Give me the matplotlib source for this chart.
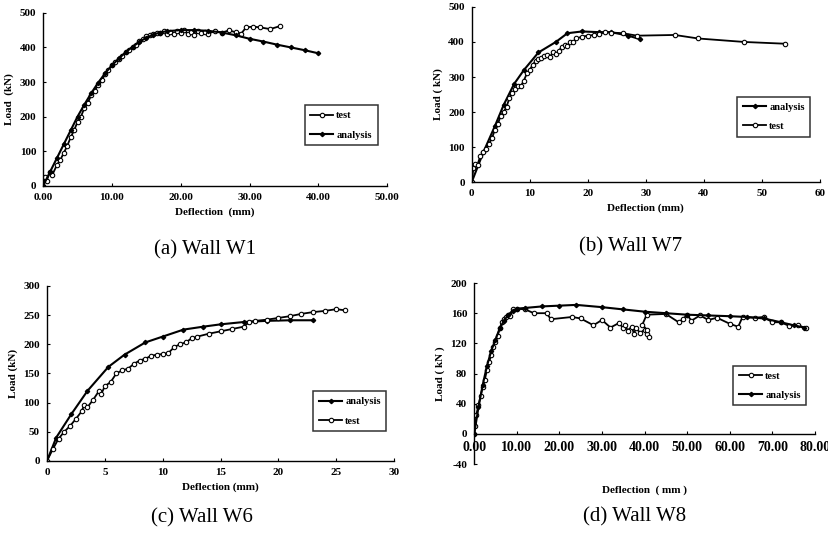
import matplotlib
matplotlib.use("Agg")
import matplotlib.pyplot as plt

plt.rcParams['font.family'] = ['Liberation Serif', 'DejaVu Serif']
plt.rcParams['font.weight'] = 'bold'

# ---- Wall W1 ----
w1_test_x = [0, 0.3, 0.5, 1, 1.3, 2, 2.5, 3, 3.5, 4, 4.5, 5, 5.5, 6, 6.5, 7, 7.5, 8, 8.5, 9,
             9.5, 10, 10.5, 11, 11.5, 12, 12.5, 13, 13.5, 14, 14.5, 15, 15.5, 16, 16.5, 17,
             17.5, 18, 18.5, 19, 19.5, 20, 20.5, 21, 21.5, 22, 22.5, 23, 23.5, 24, 25, 26,
             27, 28, 28.8, 29.5, 30.5, 31.5, 33, 34.5]
w1_test_y = [0, 25, 15, 40, 30, 60, 75, 95, 115, 140, 160, 185, 200, 225, 240, 262, 275, 292,
             305, 322, 335, 350, 357, 366, 376, 386, 393, 400, 408, 418, 425, 432, 437, 440,
             443, 441, 447, 440, 446, 438, 448, 442, 450, 438, 445, 435, 448, 442, 445, 440,
             447, 443, 449, 444, 440, 458, 460, 458, 453, 462]
w1_ana_x = [0, 1, 2, 3, 4, 5, 6, 7, 8, 9, 10, 11, 12, 13, 14, 15, 16, 17, 18, 20, 22, 24, 26,
            28, 30, 32, 34, 36, 38, 40]
w1_ana_y = [0, 40, 80, 120, 160, 200, 235, 268, 298, 325, 348, 368, 386, 402, 416, 428, 437,
            443, 447, 450, 450, 448, 443, 435, 425, 417, 408, 400, 392, 383]

# ---- Wall W7 ----
w7_ana_x = [0, 2, 4, 5.5, 7.3, 9, 11.5, 14.5, 16.5, 19, 22, 24, 27, 29]
w7_ana_y = [0, 85, 160, 220, 280, 320, 370, 400, 425, 430, 428, 428, 418, 408]
w7_test_x = [0, 0.3, 0.6, 1, 1.5, 2, 2.5, 3, 3.5, 4, 4.5, 5, 5.5, 6, 6.5, 7, 7.5, 8, 8.5, 9,
             9.5, 10, 10.5, 11, 11.5, 12, 12.5, 13, 13.5, 14, 14.5, 15, 15.5, 16, 16.5, 17,
             17.5, 18, 19, 20, 21, 22, 23, 24, 26, 28.5, 35, 39, 47, 54]
w7_test_y = [0, 40, 52, 50, 75, 85, 95, 110, 125, 150, 165, 190, 200, 215, 240, 255, 265,
             275, 275, 290, 310, 320, 335, 345, 350, 355, 360, 362, 358, 370, 365, 375, 385,
             390, 388, 400, 400, 410, 415, 418, 420, 423, 428, 427, 425, 418, 420, 410, 400,
             395]

# ---- Wall W6 ----
w6_ana_x = [0, 0.8, 2.1, 3.5, 5.3, 6.7, 8.5, 10, 11.8, 13.5, 15, 17, 19, 21, 23]
w6_ana_y = [0, 40, 80, 120, 161, 182, 203, 213, 225, 230, 234, 238, 240, 241, 241]
w6_test_x = [0, 0.5, 1, 1.5, 2, 2.5, 3, 3.2, 3.5, 4, 4.5, 4.7, 5, 5.5, 6, 6.5, 7, 7.5, 8, 8.5,
             9, 9.5, 10, 10.5, 11, 11.5, 12, 12.5, 13, 14, 15, 16, 17, 17.5, 18, 19, 20, 21,
             22, 23, 24, 25, 25.8]
w6_test_y = [0, 20, 38, 50, 60, 72, 85, 95, 92, 105, 120, 115, 128, 135, 150, 155, 158, 166,
             172, 175, 180, 182, 183, 185, 195, 200, 203, 210, 213, 218, 222, 226, 230, 238,
             240, 242, 245, 248, 252, 255, 257, 260, 258]

# ---- Wall W8 ----
w8_test_x = [0, 0.3, 0.5, 1, 1.5, 2, 2.5, 3, 3.5, 4, 4.5, 5, 5.5, 6, 6.5, 7, 7.5, 8, 8.5, 9,
             10, 12, 14, 17, 18, 23, 25, 28, 30, 32, 34, 35, 35.5, 36, 37, 37.5, 38, 39, 40,
             40.5, 41, 40.5, 39.5, 40.5, 45, 48, 49, 50, 51, 53, 55, 57, 60, 62, 63, 66, 68,
             70, 72, 74, 76, 78]
w8_test_y = [0, 10, 25, 38, 50, 62, 72, 85, 95, 105, 115, 122, 130, 140, 148, 152, 155, 158,
             156, 165, 166, 165, 160, 160, 152, 155, 153, 144, 151, 141, 147, 140, 145, 137,
             142, 133, 140, 134, 138, 133, 128, 138, 145, 158, 159, 148, 152, 158, 150, 157,
             151, 154, 146, 142, 155, 154, 155, 148, 148, 143, 144, 140]
w8_ana_x = [0, 1, 2, 3, 4, 5, 6, 7, 8, 9, 10, 12, 16, 20, 24, 30, 35, 40, 45, 50, 55, 60,
            64, 68, 72, 75, 77.5]
w8_ana_y = [0, 35, 65, 90, 110, 125, 140, 150, 158, 163, 166, 167, 169, 170, 171, 168, 165,
            162, 160, 158, 157, 156, 155, 153, 148, 144, 141]

fig = plt.figure(figsize=(8.29, 5.34), dpi=100)

test_kw = dict(color='black', lw=1.3, marker='o', ms=3.2, mfc='white', mec='black', mew=0.8)
ana_kw = dict(color='black', lw=1.5, marker='D', ms=2.2, mfc='black', mec='black')


def style(ax, xlim, ylim, xticks, yticks, xfmt, ylabel, xlabel):
    ax.set_xlim(xlim)
    ax.set_ylim(ylim)
    ax.set_xticks(xticks)
    ax.set_yticks(yticks)
    ax.set_xticklabels([xfmt.format(v) for v in xticks], fontsize=8, fontweight='bold')
    ax.set_yticklabels([str(v) for v in yticks], fontsize=8, fontweight='bold')
    ax.spines['top'].set_visible(False)
    ax.spines['right'].set_visible(False)
    ax.spines['left'].set_linewidth(1.0)
    ax.spines['bottom'].set_linewidth(1.0)
    ax.tick_params(direction='in', length=2.5, width=0.8, pad=5)
    ax.set_ylabel(ylabel, fontsize=8, fontweight='bold')
    ax.set_xlabel(xlabel, fontsize=8, fontweight='bold')


def legend(ax, order, center):
    leg = ax.legend(handles=order, loc='center', bbox_to_anchor=center, fontsize=7.5,
                    frameon=True, fancybox=False, handlelength=2.2, borderpad=0.55,
                    labelspacing=0.95, handletextpad=0.3, borderaxespad=0)
    leg.get_frame().set_edgecolor('black')
    leg.get_frame().set_linewidth(1.1)
    for t in leg.get_texts():
        t.set_fontweight('bold')


# (a) Wall W1
ax = fig.add_axes([0.052, 0.652, 0.415, 0.324])
lt, = ax.plot(w1_test_x, w1_test_y, label='test', **test_kw)
la, = ax.plot(w1_ana_x, w1_ana_y, label='analysis', **ana_kw)
style(ax, (0, 50), (0, 500), [0, 10, 20, 30, 40, 50], [0, 100, 200, 300, 400, 500],
      '{:.2f}', 'Load  (kN)', 'Deflection  (mm)')
legend(ax, [lt, la], (0.866, 0.35))

# (b) Wall W7
ax = fig.add_axes([0.569, 0.659, 0.420, 0.328])
la, = ax.plot(w7_ana_x, w7_ana_y, label='analysis', **ana_kw)
lt, = ax.plot(w7_test_x, w7_test_y, label='test', **test_kw)
style(ax, (0, 60), (0, 500), [0, 10, 20, 30, 40, 50, 60], [0, 100, 200, 300, 400, 500],
      '{:d}', 'Load ( kN)', 'Deflection (mm)')
legend(ax, [la, lt], (0.868, 0.374))

# (c) Wall W6
ax = fig.add_axes([0.0567, 0.137, 0.4186, 0.3277])
la, = ax.plot(w6_ana_x, w6_ana_y, label='analysis', **ana_kw)
lt, = ax.plot(w6_test_x, w6_test_y, label='test', **test_kw)
style(ax, (0, 30), (0, 300), [0, 5, 10, 15, 20, 25, 30], [0, 50, 100, 150, 200, 250, 300],
      '{:d}', 'Load (kN)', 'Deflection (mm)')
legend(ax, [la, lt], (0.873, 0.283))

# (d) Wall W8
ax = fig.add_axes([0.572, 0.131, 0.411, 0.339])
lt, = ax.plot(w8_test_x, w8_test_y, label='test', **test_kw)
la, = ax.plot(w8_ana_x, w8_ana_y, label='analysis', **ana_kw)
style(ax, (0, 80), (-40, 200), [0, 10, 20, 30, 40, 50, 60, 70, 80],
      [-40, 0, 40, 80, 120, 160, 200], '{:.2f}', 'Load ( kN )', 'Deflection  ( mm )')
ax.spines['bottom'].set_position(('data', 0))
ax.xaxis.set_label_coords(0.5, -0.12)
legend(ax, [lt, la], (0.868, 0.434))

caps = [('(a) Wall W1', 0.247, 0.532), ('(b) Wall W7', 0.761, 0.537),
        ('(c) Wall W6', 0.244, 0.030), ('(d) Wall W8', 0.766, 0.032)]
for txt, x, y in caps:
    fig.text(x, y, txt, ha='center', va='center', fontsize=15, fontweight='normal',
             family='Liberation Serif')

fig.savefig('out.png', dpi=100)
